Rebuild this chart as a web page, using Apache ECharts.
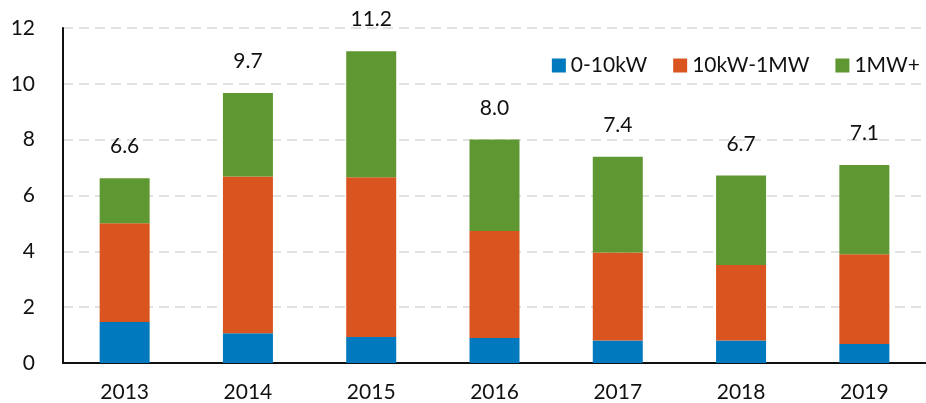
<!DOCTYPE html>
<html>
<head>
<meta charset="utf-8">
<script src="https://cdn.jsdelivr.net/npm/echarts@6/dist/echarts.min.js"></script>
<style>
  html, body { margin: 0; padding: 0; background: #fff; }
  #chart { width: 926px; height: 403px; }
</style>
</head>
<body>
<div id="chart"></div>
<script>
const years = ['2013', '2014', '2015', '2016', '2017', '2018', '2019']
const small = [1.47, 1.07, 0.93, 0.9, 0.81, 0.81, 0.68]
const medium = [3.54, 5.61, 5.72, 3.83, 3.15, 2.7, 3.22]
const large = [1.61, 2.99, 4.52, 3.28, 3.43, 3.21, 3.19]
const totals = ['6.6', '9.7', '11.2', '8.0', '7.4', '6.7', '7.1']

const font = 'Lato, "Open Sans", sans-serif'
const chart = echarts.init(document.getElementById('chart'))

chart.setOption({
  animation: false,
  color: ['#0079be', '#d9541f', '#5f9732'],
  textStyle: { fontFamily: font },
  grid: { left: 63, right: -5, top: 28, bottom: 39 },
  legend: {
    right: 1,
    top: 50,
    itemWidth: 14,
    itemHeight: 14,
    itemGap: 26,
    icon: 'rect',
    textStyle: { fontSize: 21, color: '#111', fontFamily: font },
    data: ['0-10kW', '10kW-1MW', '1MW+']
  },
  xAxis: {
    type: 'category',
    data: years,
    axisLine: { lineStyle: { color: '#111', width: 2 } },
    axisTick: { show: false },
    axisLabel: { fontSize: 21, color: '#111', margin: 19, fontFamily: font }
  },
  yAxis: {
    type: 'value',
    min: 0,
    max: 12,
    interval: 2,
    axisLine: { show: true, lineStyle: { color: '#111', width: 2 } },
    axisTick: { show: false },
    axisLabel: { fontSize: 21, color: '#111', margin: 28, fontFamily: font },
    splitLine: { lineStyle: { color: '#d9d9d9', type: [10, 6], width: 1.5 } }
  },
  series: [
    { name: '0-10kW', type: 'bar', stack: 'total', barWidth: 50, data: small },
    { name: '10kW-1MW', type: 'bar', stack: 'total', barWidth: 50, data: medium },
    {
      name: '1MW+',
      type: 'bar',
      stack: 'total',
      barWidth: 50,
      data: large,
      label: {
        show: true,
        position: 'top',
        distance: 21,
        fontSize: 21,
        color: '#111',
        fontFamily: font,
        formatter: (p) => totals[p.dataIndex]
      }
    }
  ]
})
</script>
</body>
</html>
